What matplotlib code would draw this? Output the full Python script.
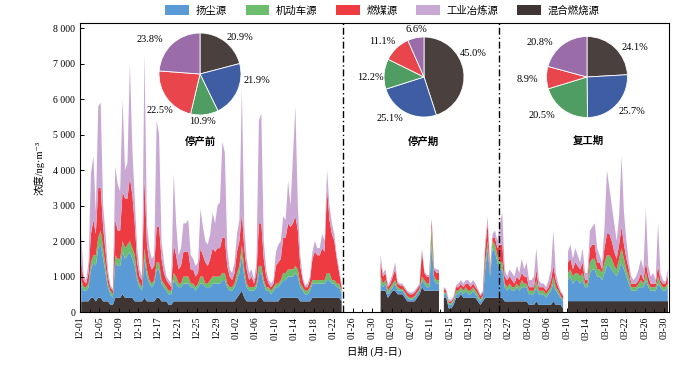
import matplotlib
matplotlib.use("Agg")
import matplotlib.pyplot as plt
from matplotlib.patches import Patch
from matplotlib.ticker import FuncFormatter, MultipleLocator
import numpy as np
import pandas as pd

plt.rcParams['font.family'] = ['Liberation Serif', 'Noto Sans CJK SC', 'DejaVu Sans']

# ---- data ----
sources = ["扬尘源", "机动车源", "燃煤源", "工业冶炼源", "混合燃烧源"]
periods = ["停产前", "停产期", "复工期"]

# pie shares (%), order: dust, vehicle, coal, industry, mixed
share_before = [21.9, 10.9, 22.5, 23.8, 20.9]
share_stop = [25.1, 12.2, 11.1, 6.6, 45.0]
share_resume = [25.7, 20.5, 8.9, 20.8, 24.1]

# half-day concentrations, unit 100 ng/m3
# 停产前: 12-01 .. 01-23
mixed_before = [3,3, 3,3, 4,4, 3,4, 4,3, 3,3, 2,2, 4,4, 4,5, 4,4,
                4,4, 3,3, 3,3, 4,3, 3,3, 3,4, 4,3, 3,3, 2,2, 3,3,
                3,3, 3,3, 3,3, 3,3, 3,3, 3,3, 3,3, 3,3, 3,3, 3,3,
                3,3, 3,3, 4,5, 6,4, 3,3, 3,3, 3,4, 4,3, 3,3, 3,3,
                3,3, 4,4, 4,4, 4,4, 4,4, 3,3, 3,3, 3,4, 4,4, 4,4,
                4,4, 4,4, 4,4, 4,3]
dust_before = [5,3, 3,4, 8,10, 10,14, 15,12, 8,4, 3,2, 10,9, 9,12, 11,12,
               13,11, 10,6, 4,3, 11,7, 5,4, 5,8, 8,5, 4,3, 3,3, 6,5,
               4,4, 5,5, 5,4, 4,3, 4,5, 5,4, 4,4, 5,5, 5,5, 6,6,
               4,3, 3,4, 5,6, 10,6, 4,3, 3,3, 4,7, 7,5, 3,3, 2,3,
               4,4, 4,5, 5,6, 6,6, 7,6, 4,3, 2,2, 3,4, 4,4, 4,4,
               4,5, 5,4, 4,3, 3,2]
vehicle_before = [1,1, 1,1, 2,2, 3,3, 4,3, 2,1, 1,1, 2,2, 2,3, 3,3,
                  3,3, 3,1, 1,1, 3,2, 1,1, 1,2, 2,1, 1,1, 1,1, 2,2,
                  1,1, 2,2, 2,1, 1,1, 1,2, 2,1, 1,2, 2,2, 2,2, 2,2,
                  1,1, 1,1, 2,2, 3,2, 1,1, 1,1, 1,2, 2,1, 1,1, 1,1,
                  1,1, 1,2, 2,2, 2,2, 2,2, 1,1, 1,1, 1,1, 1,1, 1,1,
                  1,2, 2,1, 1,1, 1,1]
coal_before = [5,2, 1,3, 8,10, 6,14, 12,6, 4,2, 1,1, 10,8, 8,14, 14,13,
               18,15, 9,4, 2,2, 20,7, 5,4, 4,10, 10,6, 3,2, 2,1, 8,6,
               4,5, 7,7, 7,4, 4,3, 3,8, 6,6, 5,6, 8,7, 8,8, 10,10,
               5,3, 2,3, 6,7, 9,6, 4,2, 3,1, 3,12, 12,6, 3,1, 1,1,
               5,6, 6,10, 10,13, 12,13, 14,11, 5,2, 1,1, 2,6, 8,7, 7,9,
               8,24, 15,13, 11,7, 3,1]
industry_before = [8,1, 1,3, 17,18, 6,23, 24,6, 5,2, 0.5,0.5, 15,13, 11,26, 8,10,
                   32,13, 7,4, 2,1, 35,6, 4,3, 3,30, 26,5, 3,1, 1,1, 20,9,
                   4,5, 8,8, 9,4, 3,3, 3,11, 8,6, 6,7, 10,8, 12,13, 27,24,
                   5,2, 2,3, 5,6, 35,6, 3,2, 2,1, 3,29, 31,5, 2,1, 1,1,
                   4,5, 5,6, 5,12, 6,19, 31,7, 3,1, 0.5,1, 1,2, 3,2, 2,4,
                   3,5, 4,3, 2,1, 1,1]

n_missing = 15  # no data 01-24 .. 02-01

# 停产期: 02-01 pm .. 02-24
mixed_stop = [6, 6,6, 4,5, 6,6, 5,5, 5,4, 3,3, 3,3, 4,5, 7,6, 6,6, 6,6,
              6,6, None,4, 4,1, 1,2, 4,4, 5,4, 4,4, 4,4, 4,3, 2,3, 4,4, 4,4, 4,4]
dust_stop = [2, 1,2, 1,1, 1,2, 1,1, 1,1, 1,0.5, 0.5,1, 1,1, 2,2, 1,1, 13,3,
             2,2, None,1, 1,1, 1,1, 1,1, 1,1, 2,1, 1,2, 1,1, 1,1, 8,14, 6,14, 13,10]
vehicle_stop = [2, 1,1, 1,1, 1,1, 1,0.5, 0.5,0.5, 0.5,0.5, 0.5,0.5, 0.5,0.5, 1,1, 1,1, 5,1,
                1,1, None,0.5, 0.5,0.5, 0.5,0.5, 1,1, 1,1, 1,1, 1,1, 1,1, 0.5,0.5, 2,2, 1,2, 2,2]
coal_stop = [4, 2,2, 1,1, 2,3, 1,1, 1,1, 1,1, 1,1, 1,1, 7,2, 2,2, 2,2,
             2,2, None,1, 0.5,0.5, 0.5,0.5, 1,1, 1,1, 1,2, 1,1, 1,1, 1,1, 4,5, 1,1, 2,2]
industry_stop = [2, 1,1, 0.5,1, 1,2, 0.5,0.5, 0.5,0.5, 0.5,0.5, 0.5,0.5, 0.5,0.5, 1,0.5, 0.5,0.5, 0.5,0.5,
                 1,1, None,0.5, 0.5,0.5, 0.5,0.5, 0.5,1, 1,1, 1,1, 1,1, 1,0.5, 0.5,0.5, 2,2, 1,1, 2,2]

# 复工期: 02-25 .. 03-30
mixed_resume = [4,4, 3,3, 3,3, 3,3, 3,3, 3,3, 2,2, 2,3, 2,2, 2,2, 2,2, 3,2, 2,2, 1,None,
                3,3, 3,3, 3,3, 3,3, 3,3, 3,3, 3,3, 3,3, 3,3, 3,3, 3,3, 3,3, 3,3,
                3,3, 3,3, 3,3, 3,3, 3,3, 3,3, 3,3, 3,3]
dust_resume = [8,8, 4,3, 4,3, 3,4, 3,4, 4,4, 3,3, 3,4, 3,3, 3,2, 3,4, 5,4, 3,2, 2,None,
               6,7, 5,6, 6,5, 6,4, 4,8, 9,9, 7,7, 6,8, 10,10, 9,8, 7,9, 11,9, 7,5,
               3,3, 3,4, 4,4, 6,4, 3,3, 3,5, 4,3, 3,4]
vehicle_resume = [2,2, 1,1, 1,1, 1,1, 1,2, 1,1, 1,1, 1,2, 1,1, 1,1, 1,1, 2,1, 1,0.5, 0.5,None,
                  2,2, 2,2, 2,2, 2,1, 1,3, 3,3, 2,2, 2,3, 3,3, 3,2, 2,3, 4,3, 2,2,
                  1,1, 1,1, 2,1, 2,1, 1,1, 1,2, 1,1, 1,1]
coal_resume = [5,5, 2,2, 2,2, 1,2, 2,2, 2,2, 1,1, 1,3, 1,1, 1,1, 1,2, 3,2, 1,1, 1,None,
               3,3, 2,3, 2,2, 3,1, 1,4, 4,4, 2,2, 1,4, 6,6, 5,4, 3,4, 6,4, 3,2,
               1,1, 1,1, 2,1, 3,2, 1,1, 1,3, 1,1, 1,2]
industry_resume = [6,9, 2,1, 2,2, 2,3, 2,4, 2,4, 2,2, 3,6, 2,1, 1,1, 2,3, 10,2, 1,0.5, 0.5,None,
                   3,4, 3,4, 3,2, 4,2, 2,5, 5,6, 4,2, 2,6, 18,13, 10,8, 5,8, 20,9, 5,2,
                   2,1, 2,3, 4,3, 15,3, 2,3, 1,12, 2,1, 0.5,2]

area_colors = ['#5b9bd5', '#6cbd6c', '#ee3b42', '#c9a8d4', '#3f3634']
pie_colors = ['#3e5da3', '#4f9d62', '#e8454d', '#9a6ca8', '#4a403d']


def series(before, stop, resume):
    vals = before + [None] * n_missing + stop + resume
    return np.array(vals, dtype=float) * 100


dust = series(dust_before, dust_stop, dust_resume)
vehicle = series(vehicle_before, vehicle_stop, vehicle_resume)
coal = series(coal_before, coal_stop, coal_resume)
industry = series(industry_before, industry_stop, industry_resume)
mixed = series(mixed_before, mixed_stop, mixed_resume)

# one value every 12 h, placed mid-interval (day 0 = 12-01)
t = np.arange(len(dust)) * 0.5 + 0.25

fig = plt.figure(figsize=(7, 3.66), dpi=100)
ax = fig.add_axes([80 / 700, 1 - 312 / 366, 589 / 700, 289 / 366])

layers = [mixed, dust, vehicle, coal, industry]
cols = [area_colors[4], area_colors[0], area_colors[1], area_colors[2], area_colors[3]]
ax.stackplot(t, *layers, colors=cols, linewidth=0)

for xv in [54, 86]:
    ax.axvline(xv, color='black', lw=1.0, ls=(0, (5, 2, 1, 2)), zorder=5)

ax.set_xlim(0, 121)
ax.set_ylim(0, 8150)
ax.yaxis.set_major_locator(MultipleLocator(1000))
ax.yaxis.set_major_formatter(FuncFormatter(lambda v, p: f"{v:,.0f}".replace(",", " ")))

tick_days = np.arange(0, 121, 4)
tick_labels = pd.date_range("2019-12-01", periods=len(tick_days), freq="4D").strftime("%m-%d")
ax.set_xticks(tick_days)
ax.set_xticklabels(tick_labels, rotation=90)
ax.set_xticks(np.arange(2, 121, 4), minor=True)
ax.tick_params(axis='both', direction='in', labelsize=7, length=3, width=0.7)
ax.tick_params(axis='x', which='minor', direction='in', length=2, width=0.7)
for s in ax.spines.values():
    s.set_linewidth(0.8)

ax.set_ylabel("浓度/ng·m⁻³", fontsize=7.5, labelpad=6)
ax.set_xlabel("日期 (月-日)", fontsize=7.5, labelpad=4)

# legend on top
handles = [Patch(facecolor=c, edgecolor='none') for c in area_colors]
fig.legend(handles, sources, loc='center', bbox_to_anchor=(0.546, 0.972), ncol=5,
           frameon=False, fontsize=7.5, handlelength=2.3, handleheight=1.1,
           columnspacing=1.8, handletextpad=0.6)

# pies: center px, radius px, shares, label offsets (in radii), title position
pie_specs = [
    ((200, 74), 41, share_before, [(1.39, -0.15), (0.07, -1.17), (-0.98, -0.88), (-1.22, 0.83), (0.98, 0.90)], (200, 142)),
    ((424, 77), 40, share_stop, [(-0.85, -1.03), (-1.35, 0.0), (-1.05, 0.88), (-0.18, 1.18), (1.23, 0.60)], (423, 142)),
    ((587, 77), 40.5, share_resume, [(1.11, -0.86), (-1.11, -0.94), (-1.48, -0.07), (-1.16, 0.86), (1.19, 0.74)], (588, 141)),
]
for name, (center, r, shares, offs, title_pos) in zip(periods, pie_specs):
    cx, cy = center
    pax = fig.add_axes([(cx - r) / 700, 1 - (cy + r) / 366, 2 * r / 700, 2 * r / 366])
    order = [4, 0, 1, 2, 3]  # mixed first, clockwise from 12 o'clock
    pax.pie([shares[i] for i in order], colors=[pie_colors[i] for i in order],
            startangle=90, counterclock=False, radius=1,
            wedgeprops=dict(edgecolor='white', linewidth=0.6))
    pax.set_xlim(-1, 1)
    pax.set_ylim(-1, 1)
    pax.set_aspect('equal')
    pax.axis('off')
    for i in range(5):
        fig.text((cx + offs[i][0] * r) / 700, 1 - (cy - offs[i][1] * r) / 366,
                 f"{shares[i]:.1f}%", fontsize=7.5, ha='center', va='center')
    fig.text(title_pos[0] / 700, 1 - title_pos[1] / 366, name, fontsize=7.5,
             ha='center', va='center', fontweight='bold')

fig.savefig("out.png", dpi=100)
